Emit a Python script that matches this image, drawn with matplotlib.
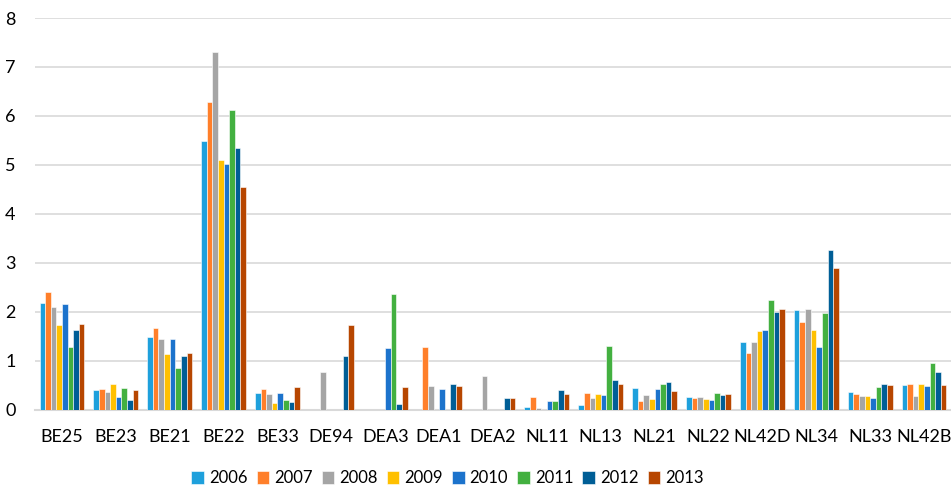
import matplotlib
matplotlib.use("Agg")
import matplotlib.pyplot as plt
import numpy as np

regions = ["BE25", "BE23", "BE21", "BE22", "BE33", "DE94", "DEA3", "DEA1", "DEA2",
           "NL11", "NL13", "NL21", "NL22", "NL42D", "NL34", "NL33", "NL42B"]
years = ["2006", "2007", "2008", "2009", "2010", "2011", "2012", "2013"]

v2006 = [2.17, 0.39, 1.49, 5.48, 0.34, 0, 0, 0, 0, 0.05, 0.09, 0.44, 0.25, 1.38, 2.03, 0.35, 0.51]
v2007 = [2.41, 0.42, 1.66, 6.29, 0.42, 0, 0, 1.28, 0, 0.25, 0.34, 0.18, 0.23, 1.16, 1.79, 0.31, 0.52]
v2008 = [2.10, 0.36, 1.45, 7.31, 0.32, 0.77, 0, 0.48, 0.68, 0.03, 0.23, 0.29, 0.25, 1.39, 2.05, 0.28, 0.27]
v2009 = [1.72, 0.53, 1.14, 5.10, 0.14, 0, 0, 0, 0, 0, 0.31, 0.21, 0.21, 1.61, 1.63, 0.27, 0.53]
v2010 = [2.15, 0.25, 1.45, 5.02, 0.34, 0, 1.25, 0.43, 0, 0.18, 0.29, 0.42, 0.20, 1.62, 1.28, 0.23, 0.49]
v2011 = [1.27, 0.45, 0.85, 6.13, 0.20, 0, 2.37, 0, 0, 0.18, 1.29, 0.52, 0.34, 2.23, 1.97, 0.47, 0.95]
v2012 = [1.63, 0.20, 1.10, 5.35, 0.16, 1.10, 0.12, 0.52, 0.23, 0.40, 0.60, 0.57, 0.29, 1.99, 3.26, 0.53, 0.77]
v2013 = [1.75, 0.39, 1.16, 4.55, 0.47, 1.73, 0.46, 0.48, 0.23, 0.31, 0.52, 0.38, 0.32, 2.05, 2.89, 0.51, 0.51]

series = [v2006, v2007, v2008, v2009, v2010, v2011, v2012, v2013]
colors = ["#1EA0DC", "#FF7F2A", "#A5A5A5", "#FFC000", "#1C73CC", "#43B040", "#005E96", "#B74600"]

plt.rcParams['font.family'] = ['Lato', 'DejaVu Sans']

fig = plt.figure(figsize=(9.51, 4.87), dpi=100)
ax = fig.add_axes([0.0368, 0.159, 0.9632, 0.804])

x = np.arange(len(regions))
slot = 0.104
for i, (vals, c, y) in enumerate(zip(series, colors, years)):
    ax.bar(x + (i - 3.5) * slot, vals, width=slot, color=c, edgecolor="white",
           linewidth=0.4, label=y, zorder=3)

ax.set_xlim(-0.5, len(regions) - 0.5)
ax.set_ylim(0, 8)
ax.set_yticks(range(0, 9))
ax.set_xticks(x)
ax.set_xticklabels(regions)
ax.yaxis.grid(True, color="#D9D9D9", linewidth=1.2, zorder=0)
ax.set_axisbelow(True)
for s in ["top", "right", "left"]:
    ax.spines[s].set_visible(False)
ax.spines["bottom"].set_color("#D9D9D9")
ax.spines["bottom"].set_linewidth(1.5)
ax.tick_params(axis="both", length=0, labelsize=13, colors="black")
ax.tick_params(axis="x", pad=14)
ax.tick_params(axis="y", pad=14)

fig.legend(loc="center", bbox_to_anchor=(0.4706, 0.018), ncol=8, frameon=False,
           fontsize=12, handlelength=0.75, handleheight=0.75, handletextpad=0.3,
           columnspacing=0.55)

fig.savefig("out.png", dpi=100)
